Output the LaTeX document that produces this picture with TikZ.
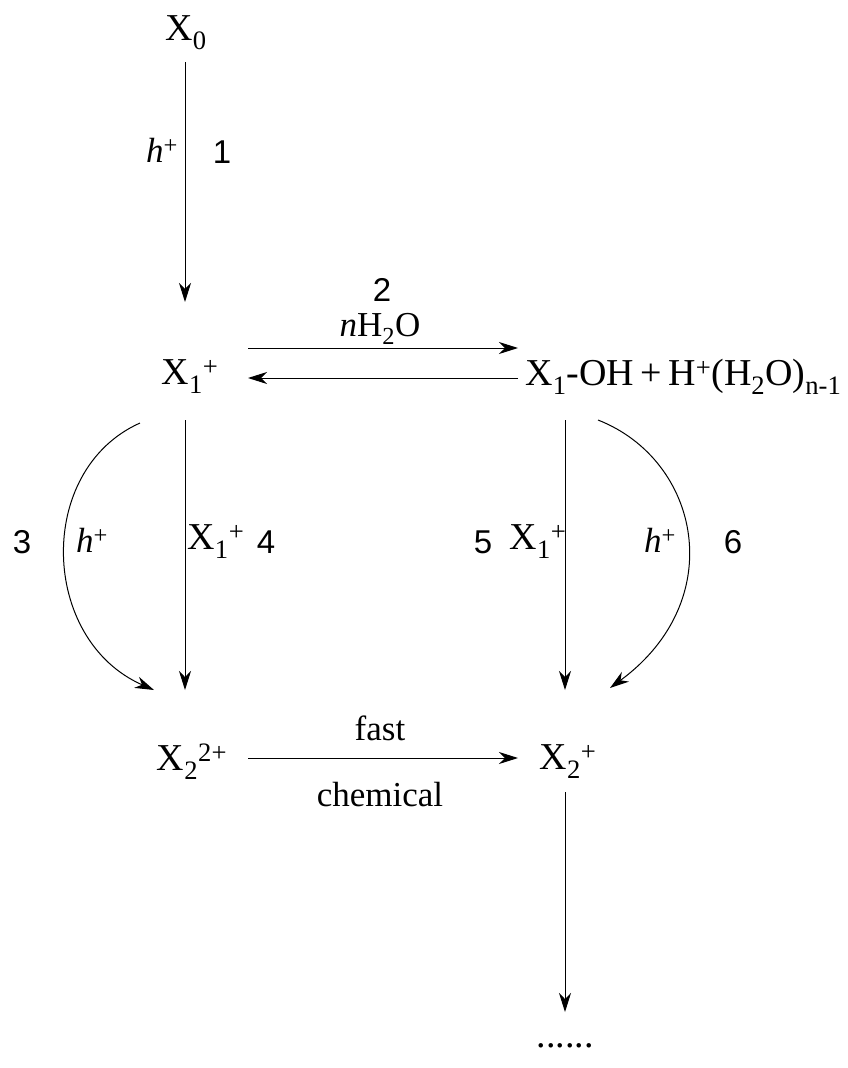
\documentclass[tikz,border=0pt]{standalone}
\usepackage{fontspec}
\setmainfont{Liberation Serif}
\newfontfamily\arial{Liberation Sans}
\usetikzlibrary{arrows.meta}
\begin{document}
\begin{tikzpicture}[x=1pt,y=-1pt,
  arr/.style={line width=1pt,-{Stealth[length=19pt,width=12pt,inset=6pt]}},
  chem/.style={font=\fontsize{38}{44}\selectfont},
  lab/.style={font=\fontsize{35}{40}\selectfont},
  num/.style={font=\arial\fontsize{33}{38}\selectfont}]
\useasboundingbox (0,0) rectangle (848,1068);
% species
\node[chem] (X0) at (186,33) {X\textsubscript{0}};
\node[chem] (X1) at (190,377) {X\textsubscript{1}\textsuperscript{+}};
\node[chem,anchor=west] (X1OH) at (522,377) {X\textsubscript{1}-OH\,+\,H\textsuperscript{+}(H\textsubscript{2}O)\textsubscript{n-1}};
\node[chem] (X22) at (192,762) {X\textsubscript{2}\textsuperscript{2+}};
\node[chem] (X2) at (568,762) {X\textsubscript{2}\textsuperscript{+}};
\node[chem] (dots) at (565,1046) {......};
% coordinates
\coordinate (a1s) at (185,62); \coordinate (a1e) at (185,302);
\coordinate (a2s) at (248,348); \coordinate (a2e) at (518,348);
\coordinate (b2s) at (518,378); \coordinate (b2e) at (248,378);
\coordinate (a4s) at (185,420); \coordinate (a4e) at (185,690);
\coordinate (a5s) at (565,420); \coordinate (a5e) at (565,690);
\coordinate (c3s) at (140,423); \coordinate (c3e) at (154,690);
\coordinate (c6s) at (598,420); \coordinate (c6e) at (610,688);
\coordinate (afs) at (248,758); \coordinate (afe) at (518,758);
\coordinate (a7s) at (565,792); \coordinate (a7e) at (565,1012);
% arrows
\draw[arr] (a1s) -- (a1e);
\draw[arr] (a2s) -- (a2e);
\draw[arr] (b2s) -- (b2e);
\draw[arr] (a4s) -- (a4e);
\draw[arr] (a5s) -- (a5e);
\draw[arr] (c3s) .. controls (35,470) and (40,640) .. (c3e);
\draw[arr] (c6s) .. controls (700,460) and (730,600) .. (c6e);
\draw[arr] (afs) -- (afe);
\draw[arr] (a7s) -- (a7e);
% labels
\node[lab] (h1) at (162,150) {\textit{h}\textsuperscript{+}};
\node[num] (n1) at (222,152) {1};
\node[num] (n2) at (382,290) {2};
\node[lab] (nh2o) at (380,329) {\textit{n}H\textsubscript{2}O};
\node[num] (n3) at (22,542) {3};
\node[lab] (h3) at (92,540) {\textit{h}\textsuperscript{+}};
\node[chem,anchor=west] (x4) at (184,542) {X\textsubscript{1}\textsuperscript{+}};
\node[num] (n4) at (266,542) {4};
\node[num] (n5) at (483,542) {5};
\node[chem,anchor=east] (x5) at (570,542) {X\textsubscript{1}\textsuperscript{+}};
\node[lab] (h6) at (660,540) {\textit{h}\textsuperscript{+}};
\node[num] (n6) at (733,542) {6};
\node[lab] (fast) at (380,728) {fast};
\node[lab] (chem) at (380,795) {chemical};
\end{tikzpicture}
\end{document}
